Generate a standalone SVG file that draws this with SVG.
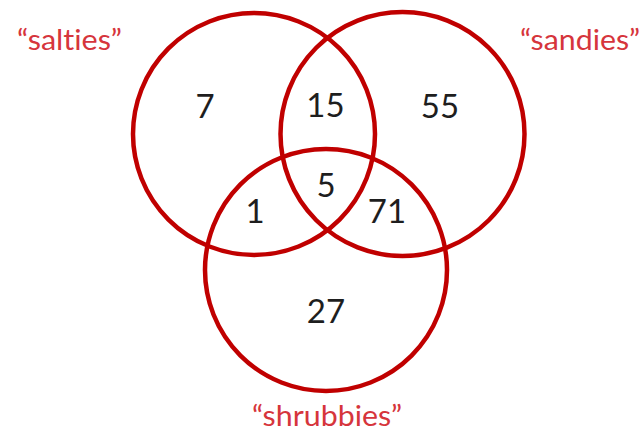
<svg xmlns="http://www.w3.org/2000/svg" width="644" height="432" viewBox="0 0 644 432">
<style>
.c{fill:none;stroke:#c00000;stroke-width:4.5}
.n{font-family:Lato,"Open Sans",sans-serif;font-size:33px;fill:#1e1e1e;text-anchor:middle}
.l{font-family:Lato,"Open Sans",sans-serif;font-size:28px;fill:#d6353c;font-variant-ligatures:none}
</style>
<rect width="644" height="432" fill="#fff"/>
<g id="connectors"/>
<g id="salties"><circle class="c" cx="254" cy="134" r="121"/><text class="l" x="17" y="50" textLength="105" lengthAdjust="spacingAndGlyphs">“salties”</text></g>
<g id="sandies"><circle class="c" cx="402.5" cy="134" r="122"/><text class="l" x="520" y="50" textLength="120" lengthAdjust="spacingAndGlyphs">“sandies”</text></g>
<g id="shrubbies"><circle class="c" cx="326" cy="270" r="121"/><text class="l" x="252" y="426" font-size="26" textLength="150" lengthAdjust="spacingAndGlyphs">“shrubbies”</text></g>
<g id="counts">
<text class="n" x="205" y="118">7</text>
<text class="n" x="325.5" y="117">15</text>
<text class="n" x="440" y="118">55</text>
<text class="n" x="326" y="197">5</text>
<text class="n" x="255" y="223">1</text>
<text class="n" x="387" y="223">71</text>
<text class="n" x="326" y="323">27</text>
</g>
</svg>
